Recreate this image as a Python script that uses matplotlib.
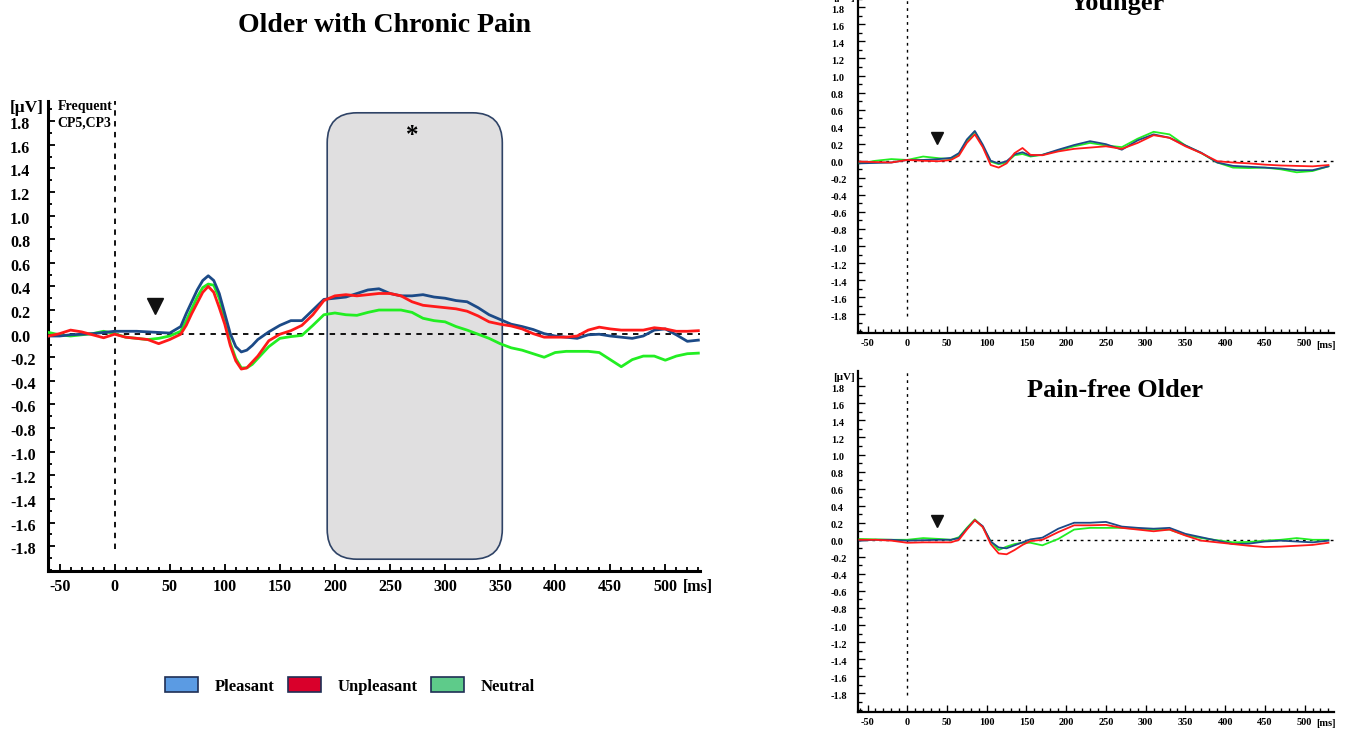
import numpy as np
import matplotlib
matplotlib.use('Agg')
from matplotlib import pyplot as plt
from matplotlib.patches import FancyBboxPatch, Patch
from matplotlib.ticker import MultipleLocator, FixedLocator
from matplotlib import transforms

plt.rcParams['font.family'] = ['Liberation Serif', 'DejaVu Serif']
plt.rcParams['font.weight'] = 'bold'
plt.rcParams['axes.unicode_minus'] = False

# ---- data (uV) ----
# main panel: Older with Chronic Pain
t_main = [-60, -50, -40, -30, -20, -10, 0, 10, 20, 30, 40, 50,
          60, 65, 70, 75, 80, 85, 90, 95, 100, 105, 110, 115, 120, 125, 130,
          140, 150, 160, 170, 180, 190, 200, 210, 220, 230, 240, 250, 260,
          270, 280, 290, 300, 310, 320, 330, 340, 350, 360, 370, 380, 390,
          400, 410, 420, 430, 440, 450, 460, 470, 480, 490, 500, 510, 520, 530]
main_pleasant = [-0.02, -0.02, -0.01, -0.005, 0.0, 0.01, 0.02, 0.02, 0.02, 0.015, 0.01, 0.005,
                 0.06, 0.17, 0.27, 0.37, 0.45, 0.49, 0.45, 0.34, 0.17, 0.0, -0.11, -0.155, -0.14, -0.10, -0.05,
                 0.015, 0.07, 0.11, 0.11, 0.20, 0.29, 0.30, 0.31, 0.34, 0.37, 0.38, 0.34, 0.32,
                 0.32, 0.33, 0.31, 0.30, 0.28, 0.27, 0.22, 0.16, 0.12, 0.08, 0.06, 0.035, 0.0,
                 -0.02, -0.03, -0.04, -0.01, -0.005, -0.02, -0.03, -0.04, -0.02, 0.03, 0.04, -0.01, -0.065, -0.055]
main_unpleasant = [-0.02, 0.0, 0.03, 0.015, -0.01, -0.035, -0.005, -0.03, -0.04, -0.05, -0.085, -0.05,
                   -0.005, 0.07, 0.17, 0.26, 0.35, 0.40, 0.35, 0.22, 0.08, -0.10, -0.23, -0.30, -0.29, -0.24, -0.19,
                   -0.06, -0.005, 0.025, 0.07, 0.16, 0.28, 0.32, 0.33, 0.32, 0.33, 0.34, 0.34, 0.32,
                   0.27, 0.24, 0.23, 0.22, 0.21, 0.19, 0.15, 0.10, 0.08, 0.065, 0.04, 0.0, -0.03,
                   -0.03, -0.03, -0.02, 0.03, 0.055, 0.04, 0.03, 0.03, 0.03, 0.05, 0.04, 0.02, 0.02, 0.025]
main_neutral = [0.01, -0.01, -0.02, -0.01, 0.0, 0.02, 0.0, -0.03, -0.04, -0.05, -0.04, -0.02,
                0.02, 0.11, 0.21, 0.31, 0.39, 0.42, 0.41, 0.30, 0.12, -0.08, -0.21, -0.29, -0.29, -0.26, -0.21,
                -0.11, -0.04, -0.025, -0.015, 0.07, 0.16, 0.175, 0.16, 0.155, 0.18, 0.20, 0.20, 0.20,
                0.18, 0.13, 0.11, 0.10, 0.06, 0.03, -0.005, -0.04, -0.085, -0.12, -0.14, -0.17, -0.20,
                -0.16, -0.15, -0.15, -0.15, -0.16, -0.22, -0.28, -0.22, -0.19, -0.19, -0.225, -0.19, -0.17, -0.165]

# right panels share a coarser time grid
t_small = [-60, -40, -20, 0, 20, 40, 55, 65, 75, 85, 95, 105, 115, 125, 135, 145, 155,
           170, 190, 210, 230, 250, 270, 290, 310, 330, 350, 370, 390, 410, 430, 450,
           470, 490, 510, 530]
young_pleasant = [-0.03, -0.025, -0.02, 0.01, 0.01, 0.02, 0.035, 0.09, 0.25, 0.35, 0.19, 0.0,
                  -0.03, -0.005, 0.075, 0.10, 0.06, 0.07, 0.13, 0.185, 0.23, 0.195, 0.13, 0.24,
                  0.31, 0.27, 0.18, 0.095, -0.02, -0.06, -0.07, -0.08, -0.09, -0.11, -0.11, -0.065]
young_unpleasant = [-0.01, -0.015, -0.02, 0.01, 0.0, -0.005, 0.01, 0.06, 0.21, 0.31, 0.16, -0.05,
                    -0.08, -0.03, 0.09, 0.15, 0.07, 0.065, 0.11, 0.14, 0.155, 0.17, 0.14, 0.21,
                    0.30, 0.27, 0.17, 0.09, -0.005, -0.02, -0.03, -0.045, -0.055, -0.06, -0.065, -0.05]
young_neutral = [-0.03, 0.0, 0.02, 0.01, 0.05, 0.03, 0.02, 0.08, 0.23, 0.34, 0.17, -0.01,
                 -0.04, -0.02, 0.065, 0.08, 0.05, 0.07, 0.12, 0.17, 0.21, 0.18, 0.16, 0.26,
                 0.34, 0.31, 0.18, 0.09, -0.02, -0.08, -0.085, -0.08, -0.10, -0.135, -0.12, -0.065]
free_pleasant = [-0.01, 0.0, 0.0, -0.01, -0.005, 0.0, 0.0, 0.02, 0.13, 0.23, 0.16, -0.02,
                 -0.09, -0.10, -0.065, -0.03, 0.005, 0.025, 0.13, 0.20, 0.20, 0.21, 0.155, 0.14,
                 0.13, 0.14, 0.07, 0.03, -0.01, -0.05, -0.045, -0.02, -0.01, -0.02, -0.03, -0.01]
free_unpleasant = [0.0, 0.0, -0.01, -0.035, -0.03, -0.03, -0.03, 0.0, 0.12, 0.23, 0.15, -0.05,
                   -0.16, -0.17, -0.12, -0.06, -0.015, 0.0, 0.09, 0.17, 0.17, 0.175, 0.14, 0.12,
                   0.10, 0.12, 0.05, -0.01, -0.03, -0.05, -0.07, -0.085, -0.08, -0.07, -0.06, -0.035]
free_neutral = [0.01, 0.005, 0.0, 0.0, 0.02, 0.01, 0.0, 0.03, 0.14, 0.24, 0.15, -0.02,
                -0.12, -0.08, -0.05, -0.035, -0.035, -0.065, 0.01, 0.12, 0.14, 0.14, 0.14, 0.13,
                0.12, 0.12, 0.055, 0.02, -0.005, -0.03, -0.025, -0.01, 0.0, 0.02, 0.0, 0.0]

y_labels = [-1.8, -1.6, -1.4, -1.2, -1.0, -0.8, -0.6, -0.4, -0.2, 0.0,
            0.2, 0.4, 0.6, 0.8, 1.0, 1.2, 1.4, 1.6, 1.8]
x_labels = [-50, 0, 50, 100, 150, 200, 250, 300, 350, 400, 450, 500]

col_pleasant = '#1c4a87'
col_unpleasant = '#ff1a1a'
col_neutral = '#22ee22'

W, H = 1352, 733
fig = plt.figure(figsize=(W / 100, H / 100), dpi=100)


def px_axes(left, right, top, bottom):
    return fig.add_axes([left / W, 1 - bottom / H, (right - left) / W, (bottom - top) / H])


def setup(ax, xlim, ylim, fs, spine_w, ylab_x, xpad, dash, dash_lw, lw,
          tp, tu, tn, yp, yu, yn, lab_shift):
    ax.set_xlim(*xlim)
    ax.set_ylim(*ylim)
    for s in ['top', 'right']:
        ax.spines[s].set_visible(False)
    for s in ['left', 'bottom']:
        ax.spines[s].set_linewidth(spine_w)
    ax.axhline(0, color='black', lw=dash_lw, ls=(0, dash), zorder=1)
    ax.plot([0, 0], [-1.82, ylim[1]], color='black', lw=dash_lw, ls=(0, dash), zorder=1)
    ax.plot(tn, yn, color=col_neutral, lw=lw, zorder=3)
    ax.plot(tp, yp, color=col_pleasant, lw=lw, zorder=4)
    ax.plot(tu, yu, color=col_unpleasant, lw=lw, zorder=5)
    ax.xaxis.set_major_locator(FixedLocator(x_labels))
    ax.xaxis.set_minor_locator(MultipleLocator(10))
    ax.yaxis.set_major_locator(FixedLocator(y_labels))
    ax.yaxis.set_minor_locator(MultipleLocator(0.1))
    ax.set_yticklabels([])
    ax.tick_params(axis='both', which='both', direction='in', labelsize=fs, width=spine_w * 0.6)
    ax.tick_params(axis='both', which='major', length=5)
    ax.tick_params(axis='both', which='minor', length=3)
    ax.tick_params(axis='x', pad=xpad)
    for lbl in ax.get_xticklabels():
        lbl.set_fontweight('bold')
    # y labels are left aligned in the original, and sit a little below the ticks
    shift = transforms.ScaledTranslation(0, -lab_shift / 100, fig.dpi_scale_trans)
    tr = ax.get_yaxis_transform() + shift
    x_ax = (ylab_x - ax.get_position().x0 * W) / (ax.get_position().width * W)
    for v in y_labels:
        ax.text(x_ax, v, '%.1f' % v, transform=tr, ha='left', va='center',
                fontsize=fs, fontweight='bold')
    return x_ax


# main panel
ax = px_axes(48, 700, 101, 571)
xa = setup(ax, (-60.5, 531.5), (-2.01, 1.97), 11.5, 2.2, 10, 6, (3, 3), 1.3, 2.0,
           t_main, t_main, t_main, main_pleasant, main_unpleasant, main_neutral, 4)
fig.text(10 / W, 1 - 108 / H, '[\u03bcV]', ha='left', va='center', fontsize=12.5, fontweight='bold')
fig.text(683 / W, 1 - 587 / H, '[ms]', ha='left', va='center', fontsize=11.5, fontweight='bold')
box = FancyBboxPatch((193, -1.91), 159, 3.78, boxstyle='round,pad=0,rounding_size=27',
                     mutation_aspect=0.0094, facecolor='#e0dfe0', edgecolor='#2f4366',
                     lw=1.2, zorder=0)
ax.add_patch(box)
ax.text(270, 1.68, '*', ha='center', va='center', fontsize=18, fontweight='bold')
ax.plot([37], [0.23], marker='v', color='#111111', markersize=11, ls='none', zorder=6)
ax.text(-52, 1.98, 'Frequent\nCP5,CP3', ha='left', va='top', fontsize=10,
        fontweight='bold', linespacing=1.35)
fig.text(384 / W, 1 - 25 / H, 'Older with Chronic Pain', ha='center', va='center',
         fontsize=20, fontweight='bold')

# right top: Younger
ax2 = px_axes(858, 1334, -8, 333)
setup(ax2, (-62, 537), (-2.02, 1.98), 7.5, 1.6, 831, 4, (2, 3), 1.0, 1.3,
      t_small, t_small, t_small, young_pleasant, young_unpleasant, young_neutral, 3)
ax2.plot([37], [0.27], marker='v', color='#111111', markersize=9, ls='none', zorder=6)
fig.text(833 / W, 1 - (-2) / H, '[\u03bcV]', ha='left', va='center', fontsize=8, fontweight='bold')
fig.text(1316 / W, 1 - 345 / H, '[ms]', ha='left', va='center', fontsize=7.5, fontweight='bold')
fig.text(1117 / W, 1 - 10 / H, 'Younger', ha='center', va='baseline',
         fontsize=19, fontweight='bold')

# right bottom: Pain-free Older
ax3 = px_axes(858, 1334, 371, 712)
setup(ax3, (-62, 537), (-2.02, 1.98), 7.5, 1.6, 831, 4, (2, 3), 1.0, 1.3,
      t_small, t_small, t_small, free_pleasant, free_unpleasant, free_neutral, 3)
ax3.plot([37], [0.22], marker='v', color='#111111', markersize=9, ls='none', zorder=6)
fig.text(833 / W, 1 - 377 / H, '[\u03bcV]', ha='left', va='center', fontsize=8, fontweight='bold')
fig.text(1316 / W, 1 - 723 / H, '[ms]', ha='left', va='center', fontsize=7.5, fontweight='bold')
fig.text(1115 / W, 1 - 397 / H, 'Pain-free Older', ha='center', va='baseline',
         fontsize=19, fontweight='bold')

# legend
handles = [Patch(facecolor='#5b9be3', edgecolor='#1f2f55', lw=1.2, label='Pleasant'),
           Patch(facecolor='#d9002b', edgecolor='#1f2f55', lw=1.2, label='Unpleasant'),
           Patch(facecolor='#5ecb8a', edgecolor='#1f2f55', lw=1.2, label='Neutral')]
fig.legend(handles=handles, loc='center', bbox_to_anchor=(350 / W, 1 - 686 / H), ncol=3,
           frameon=False, prop={'weight': 'bold', 'size': 12}, handlelength=2.0,
           handleheight=1.0, handletextpad=1.0, columnspacing=0.8)

fig.savefig('out.png', dpi=100)
